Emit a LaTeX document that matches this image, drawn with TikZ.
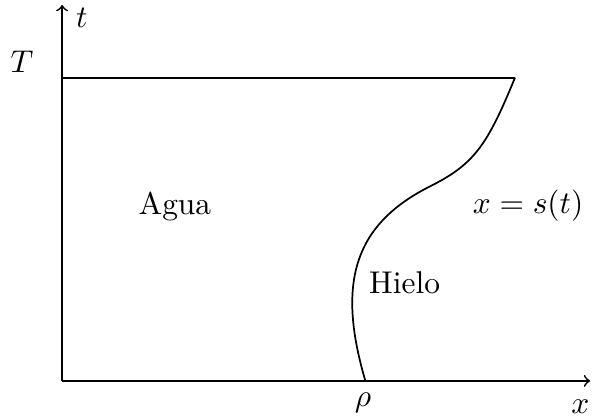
\documentclass[tikz,border=0pt,11pt]{standalone}
\usepackage{amsmath}
\usepackage{amssymb}
\usepackage{tikz}

\begin{document}
\begin{tikzpicture}[axis/.style={->,semithick}, front/.style={semithick}]
\useasboundingbox (-0.76,-0.46) rectangle (6.58,4.66);
\coordinate (O) at (0,0);
\coordinate (X) at (6.46,0);
\coordinate (Y) at (0,4.60);
\coordinate (TT) at (0,3.71);
\coordinate (S0) at (5.54,3.71);
\coordinate (SM) at (4.50,2.38);
\coordinate (S5) at (3.71,0);
\draw[axis] (O) -- (X);
\draw[axis] (O) -- (Y);
\draw[front] (TT) -- (S0);
\draw[front] (S0) .. controls (5.20,2.88) and (5.04,2.65) .. (SM)
    .. controls (3.61,1.93) and (3.34,1.25) .. (S5);
\node (tlab) at (0.24,4.44) {$t$};
\node (Tlab) at (-0.49,3.90) {$T$};
\node (xlab) at (6.34,-0.32) {$x$};
\node (rho) at (3.68,-0.27) {$\rho$};
\node (agua) at (1.38,2.13) {Agua};
\node (hielo) at (4.19,1.20) {Hielo};
\node (front) at (5.70,2.15) {$x=s(t)$};
\end{tikzpicture}
\end{document}
